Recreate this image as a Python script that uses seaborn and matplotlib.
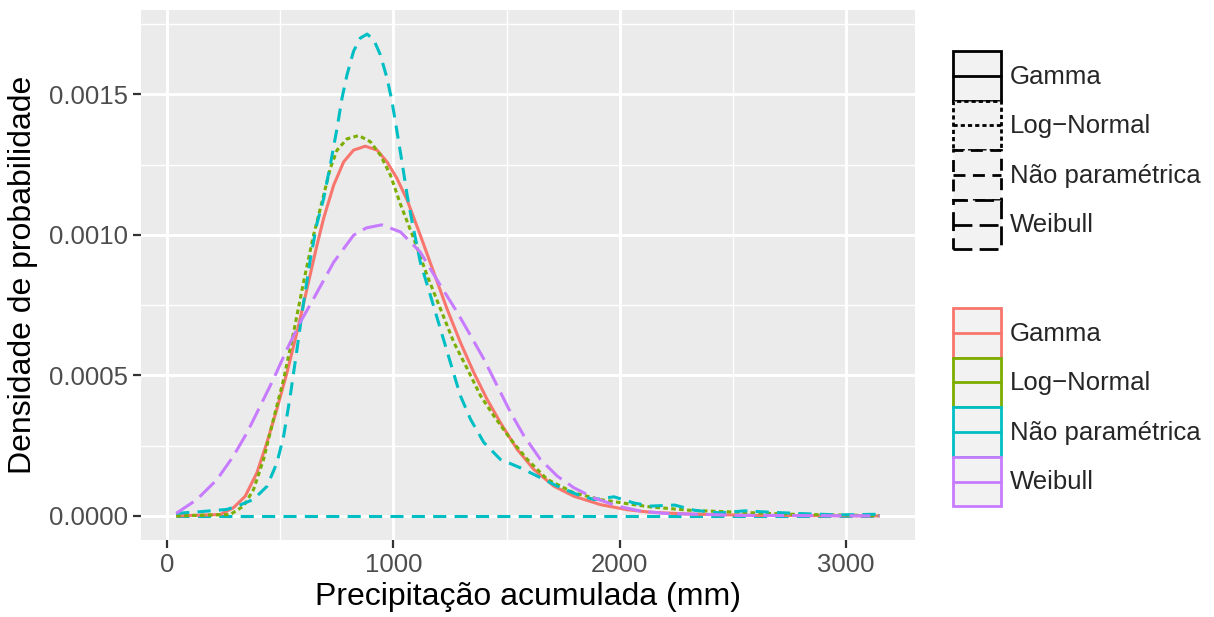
import numpy as np
import pandas as pd
import matplotlib
matplotlib.use("Agg")
import matplotlib.pyplot as plt
from matplotlib.lines import Line2D
from matplotlib.patches import Rectangle
from matplotlib.legend_handler import HandlerBase
import seaborn as sns

# ---------------- data ----------------
categories = ["Gamma", "Log\u2212Normal", "Não paramétrica", "Weibull"]
colors = ["#F8766D", "#7CAE00", "#00BFC4", "#C77CFF"]

gamma_x = [40, 235, 293, 345, 397, 441, 485, 530, 574, 618, 662, 692, 736, 780, 824, 876,
           928, 972, 1016, 1061, 1119, 1178, 1237, 1296, 1355, 1414, 1473, 1547, 1621,
           1709, 1798, 1916, 2034, 2137, 2309, 2600, 3150]
gamma_y = [0.0, 0.000005, 0.000029, 0.00007, 0.000154, 0.000261, 0.00038, 0.000511,
           0.000654, 0.000808, 0.000963, 0.00106, 0.001177, 0.00126, 0.001302, 0.001316,
           0.001302, 0.00126, 0.001201, 0.001124, 0.000999, 0.000868, 0.000737, 0.000618,
           0.000511, 0.000415, 0.000332, 0.000237, 0.000165, 0.000106, 0.00007, 0.00004,
           0.000022, 0.000013, 0.0000065, 0.000002, 0.0]

lognorm_x = [40, 279, 338, 382, 426, 470, 515, 559, 603, 647, 677, 721, 751, 795, 847, 898,
             942, 987, 1031, 1090, 1149, 1208, 1267, 1327, 1385, 1444, 1518, 1592, 1680,
             1798, 1916, 2063, 2137, 2309, 2752, 3150]
lognorm_y = [0.0, 0.000005, 0.000035, 0.000094, 0.000201, 0.000344, 0.000487, 0.000654,
             0.000832, 0.000999, 0.001094, 0.001237, 0.001302, 0.001342, 0.001354, 0.001332,
             0.001285, 0.001213, 0.00111, 0.000987, 0.000856, 0.000737, 0.000618, 0.000523,
             0.000428, 0.000356, 0.000273, 0.000201, 0.00013, 0.000082, 0.000058, 0.00004,
             0.000032, 0.00002, 0.000006, 0.000001]

npar_x = [40, 146, 264, 323, 382, 441, 485, 515, 544, 574, 603, 633, 662, 692, 721, 751,
          773, 795, 824, 854, 884, 913, 942, 972, 994, 1016, 1038, 1061, 1083, 1119, 1164,
          1208, 1252, 1296, 1341, 1400, 1473, 1562, 1650, 1724, 1813, 1887, 1975, 2063,
          2137, 2243, 2331, 2442, 2553, 2663, 2796, 2973, 3150]
npar_y = [0.000009, 0.000015, 0.000023, 0.000039, 0.000059, 0.000105, 0.000188, 0.000284,
          0.000426, 0.000593, 0.000759, 0.000914, 0.00104, 0.00113, 0.001249, 0.00138,
          0.001487, 0.00157, 0.001654, 0.001701, 0.001715, 0.001695, 0.001642, 0.001558,
          0.001475, 0.001368, 0.00126, 0.001141, 0.001046, 0.000903, 0.000784, 0.000665,
          0.000546, 0.000428, 0.000344, 0.000261, 0.000201, 0.000171, 0.000136, 0.000106,
          0.000076, 0.000058, 0.000068, 0.000046, 0.000035, 0.0000386, 0.00002, 0.0000109,
          0.000018, 0.0000133, 0.0000084, 0.0000036, 0.000006]
npar_base_x = [40, 3150]
npar_base_y = [0.0, 0.0]

weib_x = [40, 131, 220, 293, 353, 412, 470, 530, 588, 647, 736, 824, 880, 948, 1031, 1119,
          1208, 1282, 1341, 1400, 1459, 1518, 1577, 1650, 1724, 1798, 1887, 1990, 2093,
          2198, 2530, 3150]
weib_y = [0.000009, 0.000058, 0.000129, 0.000213, 0.000296, 0.000392, 0.000487, 0.000594,
          0.000689, 0.000773, 0.000903, 0.000999, 0.001025, 0.001036, 0.001011, 0.000939,
          0.00082, 0.000725, 0.000642, 0.000558, 0.000463, 0.000368, 0.000285, 0.000201,
          0.000142, 0.0001, 0.000064, 0.000035, 0.000017, 0.000009, 0.000002, 0.0]

x_ticks = [0, 1000, 2000, 3000]
y_ticks = [0.0, 0.0005, 0.0010, 0.0015]
y_tick_labels = ["0.0000", "0.0005", "0.0010", "0.0015"]
x_minor = [500, 1500, 2500]
y_minor = [0.00025, 0.00075, 0.00125, 0.00175]

# ---------------- long-form table ----------------
frames = []
for name, xs, ys in zip(categories, [gamma_x, lognorm_x, npar_x, weib_x],
                        [gamma_y, lognorm_y, npar_y, weib_y]):
    frames.append(pd.DataFrame({"x": xs, "y": ys, "dist": name}))
df = pd.concat(frames, ignore_index=True)
base_df = pd.DataFrame({"x": npar_base_x, "y": npar_base_y, "dist": categories[2]})

# ---------------- style ----------------
sns.set_theme(style="darkgrid")
plt.rcParams["font.family"] = ["Liberation Sans", "DejaVu Sans"]

DPI = 100
fig = plt.figure(figsize=(12.14, 6.17), dpi=DPI)
ax = fig.add_axes([141 / 1214, 1 - 540 / 617, (915 - 141) / 1214, (540 - 10) / 617])
ax.set_facecolor("#EBEBEB")

LW = 2.2
dash_seq = ["", (1.5, 1.1), (4.3, 2.7), (6.8, 2.6)]
dash_map = dict(zip(categories, dash_seq))
pal = dict(zip(categories, colors))

sns.lineplot(data=base_df, x="x", y="y", color=colors[2], linewidth=LW,
             ax=ax, legend=False, sort=False, estimator=None)
ax.lines[-1].set_dashes(dash_seq[2])
sns.lineplot(data=df, x="x", y="y", hue="dist", style="dist", palette=pal,
             dashes=dash_map, linewidth=LW, ax=ax, legend=False,
             sort=True, estimator=None)
for ln in ax.lines:
    ln.set_dash_capstyle("butt")
    ln.set_solid_capstyle("butt")
    ln.set_solid_joinstyle("round")
    ln.set_dash_joinstyle("round")

# limits with 5% expansion like ggplot
xmin, xmax = df["x"].min(), df["x"].max()
ymin, ymax = 0.0, df["y"].max()
dx = (xmax - xmin) * 0.05
dy = (ymax - ymin) * 0.05
ax.set_xlim(xmin - dx, xmax + dx)
ax.set_ylim(ymin - dy, ymax + dy)

# grids
ax.grid(False)
for v in x_minor:
    ax.axvline(v, color="white", lw=1.0, zorder=0.5)
for v in y_minor:
    ax.axhline(v, color="white", lw=1.0, zorder=0.5)
for v in x_ticks:
    ax.axvline(v, color="white", lw=2.1, zorder=0.6)
for v in y_ticks:
    ax.axhline(v, color="white", lw=2.1, zorder=0.6)

for s in ax.spines.values():
    s.set_visible(False)

ax.set_xticks(x_ticks)
ax.set_xticklabels([str(t) for t in x_ticks])
ax.set_yticks(y_ticks)
ax.set_yticklabels(y_tick_labels)
ax.tick_params(axis="both", which="major", direction="out", length=6, width=1.6,
               color="#333333", labelcolor="#4D4D4D", labelsize=18.5, pad=3,
               bottom=True, left=True)
ax.set_xlabel("Precipitação acumulada (mm)", fontsize=23, color="black", labelpad=4)
ax.set_ylabel("Densidade de probabilidade", fontsize=23, color="black", labelpad=8)


# ---------------- legends (ggplot-like keys) ----------------
class Key:
    def __init__(self, ls, color):
        self.ls = ls
        self.color = color


class KeyHandler(HandlerBase):
    def __init__(self, shift=0.0):
        super().__init__(xpad=0.0, ypad=0.0)
        self.shift = shift

    def create_artists(self, legend, orig_handle, xdescent, ydescent, width, height,
                       fontsize, trans):
        y0 = -ydescent - self.shift
        rect = Rectangle((-xdescent, y0), width, height, facecolor="#F2F2F2",
                         edgecolor=orig_handle.color, linewidth=2.0,
                         linestyle=orig_handle.ls, transform=trans)
        line = Line2D([-xdescent, -xdescent + width], [y0 + height / 2] * 2,
                      color=orig_handle.color, linewidth=2.0,
                      linestyle=orig_handle.ls, transform=trans)
        return [rect, line]


leg_ls = ["-", (0, (1.5, 1.1)), (0, (4.3, 2.7)), (0, (6.8, 2.6))]
h1 = [Key(ls, "black") for ls in leg_ls]
h2 = [Key("-", c) for c in colors]

common = dict(frameon=False, handlelength=1.87, handleheight=2.593, labelspacing=0.0,
              handletextpad=0.35, borderpad=0, borderaxespad=0, fontsize=18.5,
              handler_map={Key: KeyHandler()}, loc="upper left")
leg1 = fig.legend(h1, categories, bbox_transform=fig.transFigure,
                  bbox_to_anchor=(953 / 1214, 1 - 51 / 617), **common)
leg2 = fig.legend(h2, categories, bbox_transform=fig.transFigure,
                  bbox_to_anchor=(953 / 1214, 1 - 308 / 617), **common)

fig.savefig("out.png", dpi=DPI, facecolor="white")
